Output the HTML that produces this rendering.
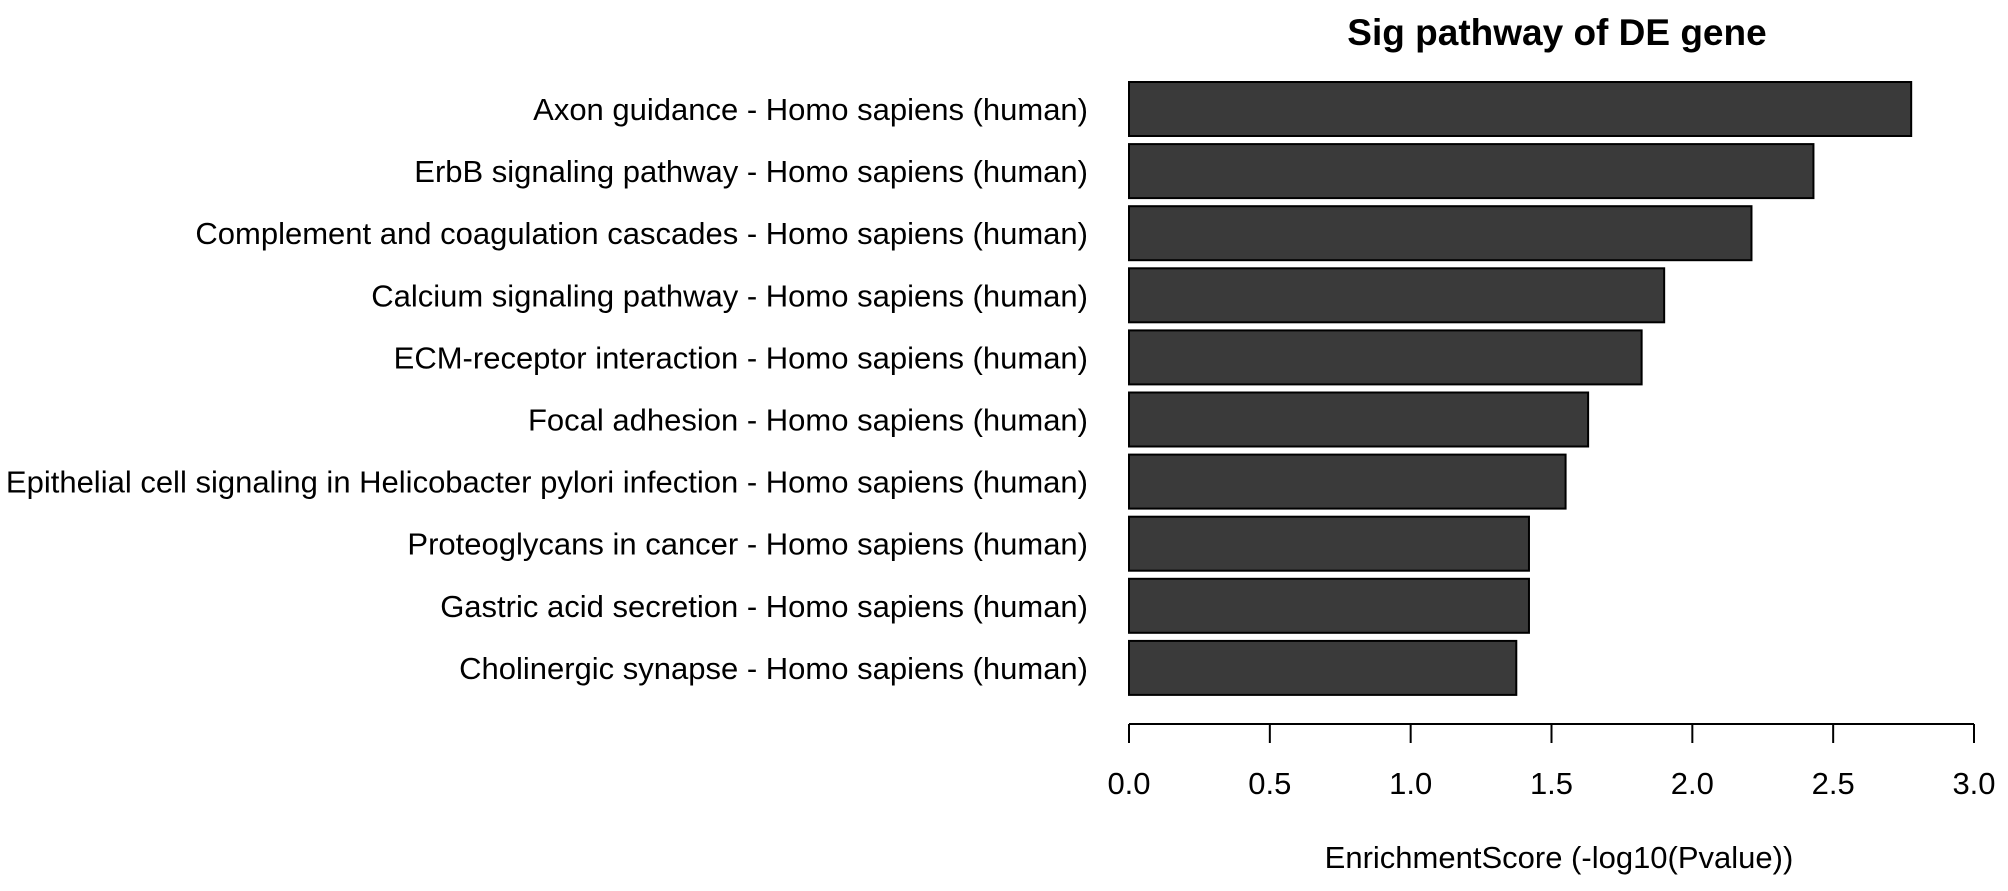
<!DOCTYPE html>
<html><head><meta charset="utf-8"><style>
html,body{margin:0;padding:0;background:#fff;}
svg{display:block;font-family:"Liberation Sans",Arial,sans-serif;}
</style></head><body>
<svg id="chart" width="2008" height="891" viewBox="0 0 2008 891">
<text x="1557" y="45" text-anchor="middle" font-size="37" font-weight="bold">Sig pathway of DE gene</text>
<g id="bars"></g>
<g id="labels"></g>
<g id="xaxis"></g>
<text x="1559" y="868" text-anchor="middle" font-size="31">EnrichmentScore (-log10(Pvalue))</text>
</svg>
<script>
const categories = [
  "Axon guidance - Homo sapiens (human)",
  "ErbB signaling pathway - Homo sapiens (human)",
  "Complement and coagulation cascades - Homo sapiens (human)",
  "Calcium signaling pathway - Homo sapiens (human)",
  "ECM-receptor interaction - Homo sapiens (human)",
  "Focal adhesion - Homo sapiens (human)",
  "Epithelial cell signaling in Helicobacter pylori infection - Homo sapiens (human)",
  "Proteoglycans in cancer - Homo sapiens (human)",
  "Gastric acid secretion - Homo sapiens (human)",
  "Cholinergic synapse - Homo sapiens (human)"
];
const values = [2.777, 2.43, 2.21, 1.90, 1.82, 1.63, 1.55, 1.42, 1.42, 1.375];
const ticks = [0, 0.5, 1.0, 1.5, 2.0, 2.5, 3.0];
const tickLabels = ["0.0","0.5","1.0","1.5","2.0","2.5","3.0"];

const NS = "http://www.w3.org/2000/svg";
const x0 = 1129, x1 = 1974, xMax = 3.0;
function xs(v){ return x0 + (x1 - x0) * v / xMax; }
const top0 = 82, pitch = 62.1, barH = 54;
function ys(i){ return top0 + i * pitch; }

const gb = document.getElementById('bars');
const gl = document.getElementById('labels');
categories.forEach((c, i) => {
  const r = document.createElementNS(NS, 'rect');
  r.setAttribute('x', xs(0));
  r.setAttribute('y', ys(i));
  r.setAttribute('width', xs(values[i]) - xs(0));
  r.setAttribute('height', barH);
  r.setAttribute('fill', '#3a3a3a');
  r.setAttribute('stroke', '#000');
  r.setAttribute('stroke-width', '2');
  
  
  gb.appendChild(r);
  const t = document.createElementNS(NS, 'text');
  t.setAttribute('x', 1088);
  t.setAttribute('y', ys(i) + barH / 2 + 11);
  t.setAttribute('text-anchor', 'end');
  t.setAttribute('font-size', '31');
  t.textContent = c;
  
  
  gl.appendChild(t);
});

const ga = document.getElementById('xaxis');
const line = document.createElementNS(NS, 'line');
line.setAttribute('x1', xs(ticks[0])); line.setAttribute('x2', xs(ticks[ticks.length-1]));
line.setAttribute('y1', 724); line.setAttribute('y2', 724);
line.setAttribute('stroke', '#000'); line.setAttribute('stroke-width', '2');


ga.appendChild(line);
ticks.forEach((v, i) => {
  const tk = document.createElementNS(NS, 'line');
  tk.setAttribute('x1', xs(v)); tk.setAttribute('x2', xs(v));
  tk.setAttribute('y1', 724); tk.setAttribute('y2', 743);
  tk.setAttribute('stroke', '#000'); tk.setAttribute('stroke-width', '2');
  
  
  ga.appendChild(tk);
  const lb = document.createElementNS(NS, 'text');
  lb.setAttribute('x', xs(v)); lb.setAttribute('y', 794);
  lb.setAttribute('text-anchor', 'middle'); lb.setAttribute('font-size', '31');
  lb.textContent = tickLabels[i];
  
  
  ga.appendChild(lb);
});
</script>
</body></html>
